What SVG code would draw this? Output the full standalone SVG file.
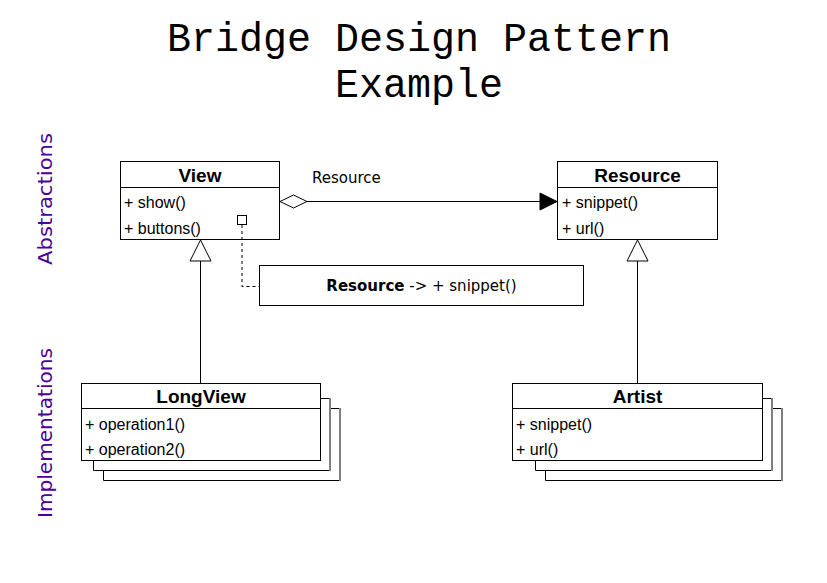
<svg xmlns="http://www.w3.org/2000/svg" width="827" height="583" viewBox="0 0 827 583">
<style>
.box{fill:#fff;stroke:#000;stroke-width:1}
.ln{fill:none;stroke:#000;stroke-width:1}
.sh{fill:none;stroke:#808080;stroke-width:2}
.hd{font-family:"Liberation Sans",Arial,sans-serif;font-weight:bold;font-size:19px;text-anchor:middle;fill:#000}
.mb{font-family:"Liberation Sans",Arial,sans-serif;font-size:16px;fill:#000}
.lbl{font-family:"DejaVu Sans",Verdana,sans-serif;font-size:15px;fill:#000}
.title{font-family:"Liberation Mono","Courier New",monospace;font-size:40px;text-anchor:middle;fill:#000}
.side{font-family:"DejaVu Sans","Noto Sans",sans-serif;font-size:19px;fill:#4C0099;text-anchor:middle;dominant-baseline:central}
</style>
<rect width="827" height="583" fill="#fff"/>
<g id="title">
<text class="title" x="419" y="51">Bridge Design Pattern</text>
<text class="title" x="419" y="97">Example</text>
</g>
<g id="side-labels">
<text class="side" transform="rotate(-90 45 199)" x="45" y="199" textLength="132" lengthAdjust="spacingAndGlyphs">Abstractions</text>
<text class="side" transform="rotate(-90 45 433)" x="45" y="433" textLength="170" lengthAdjust="spacingAndGlyphs">Implementations</text>
</g>
<g id="View">
<rect class="box" x="120.5" y="161.5" width="159" height="78"/>
<line class="ln" x1="120.5" y1="187.5" x2="279.5" y2="187.5"/>
<text class="hd" x="200" y="182">View</text>
<text class="mb" x="124" y="208">+ show()</text>
<text class="mb" x="124" y="234">+ buttons()</text>
</g>
<g id="Resource">
<rect class="box" x="557.5" y="161.5" width="160" height="78"/>
<line class="ln" x1="557.5" y1="187.5" x2="717.5" y2="187.5"/>
<text class="hd" x="637.5" y="182">Resource</text>
<text class="mb" x="562" y="208">+ snippet()</text>
<text class="mb" x="562" y="234">+ url()</text>
</g>
<g id="LongView">
<polyline class="ln" points="103.5,470 103.5,480.5 340,480.5"/>
<polyline class="ln" points="330,408.5 340,408.5"/>
<line class="sh" x1="340" y1="408" x2="340" y2="481"/>
<polyline class="ln" points="93.5,460 93.5,470.5 330,470.5"/>
<polyline class="ln" points="321,398.5 330,398.5"/>
<line class="sh" x1="330" y1="398" x2="330" y2="471"/>
<rect class="box" x="81.5" y="383.5" width="239" height="77"/>
<line class="ln" x1="81.5" y1="408.5" x2="320.5" y2="408.5"/>
<text class="hd" x="201" y="403">LongView</text>
<text class="mb" x="85" y="430">+ operation1()</text>
<text class="mb" x="85" y="455">+ operation2()</text>
</g>
<g id="Artist">
<polyline class="ln" points="545.5,470 545.5,480.5 782,480.5"/>
<polyline class="ln" points="772,408.5 782,408.5"/>
<line class="sh" x1="782" y1="408" x2="782" y2="481"/>
<polyline class="ln" points="535.5,460 535.5,470.5 772,470.5"/>
<polyline class="ln" points="763,398.5 772,398.5"/>
<line class="sh" x1="772" y1="398" x2="772" y2="471"/>
<rect class="box" x="512.5" y="383.5" width="250" height="77"/>
<line class="ln" x1="512.5" y1="408.5" x2="762.5" y2="408.5"/>
<text class="hd" x="637.5" y="403">Artist</text>
<text class="mb" x="516" y="430">+ snippet()</text>
<text class="mb" x="516" y="455">+ url()</text>
</g>
<g id="Note">
<rect class="box" x="259.5" y="265.5" width="324" height="40"/>
<text class="lbl" x="421.5" y="291" text-anchor="middle"><tspan font-weight="bold">Resource</tspan> -&gt; + snippet()</text>
</g>
<g id="connectors">
<line class="ln" x1="307" y1="201.5" x2="541" y2="201.5"/>
<polygon points="557,201.5 540,193 540,210" fill="#000" stroke="#000"/>
<polygon points="280,201.5 293.5,195 307,201.5 293.5,208" fill="#fff" stroke="#000"/>
<text class="lbl" x="312" y="183">Resource</text>
<line class="ln" x1="200.5" y1="261" x2="200.5" y2="383"/>
<polygon points="200.5,240 211,261 190,261" fill="#fff" stroke="#000"/>
<line class="ln" x1="637.5" y1="261" x2="637.5" y2="383"/>
<polygon points="637.5,240 648,261 627,261" fill="#fff" stroke="#000"/>
<rect x="237.5" y="215.5" width="9" height="9" fill="#fff" stroke="#000"/>
<polyline class="ln" points="242,225 242,286.5 259,286.5" stroke-dasharray="3,3"/>
</g>
</svg>
